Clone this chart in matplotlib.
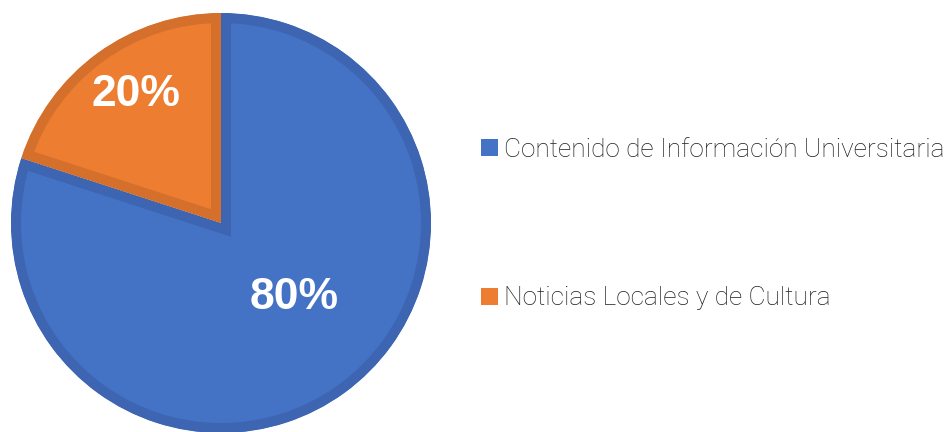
import matplotlib
matplotlib.use("Agg")
import numpy as np
import matplotlib.pyplot as plt
from matplotlib.patches import Patch

# data
labels = ["Contenido de Información Universitaria", "Noticias Locales y de Cultura"]
shares = [80, 20]
fill_colors = ["#4472C4", "#ED7D31"]
edge_colors = ["#3D65B1", "#D4702C"]
# where the percentage sits inside each slice
pct_dist = [0.495, 0.735]
pct_turn = [8.6, -2.6]

fig = plt.figure(figsize=(9.52, 4.32), dpi=100)
ax = fig.add_axes([11 / 952, -1 / 432, 420 / 952, 420 / 432])

wedges, _ = ax.pie(shares, colors=fill_colors, startangle=90, counterclock=False,
                   radius=1.0, wedgeprops=dict(linewidth=14.4))
for w, ec in zip(wedges, edge_colors):
    w.set_edgecolor(ec)
    w.set_clip_on(True)
    w.set_clip_path(w)  # keep the thick border inside the slice

for w, s, d, t in zip(wedges, shares, pct_dist, pct_turn):
    mid = np.deg2rad((w.theta1 + w.theta2) / 2 + t)
    ax.text(d * np.cos(mid), d * np.sin(mid), f"{s}%", ha="center", va="center",
            color="white", fontsize=32, fontweight="bold", family="Liberation Sans")

ax.set_xlim(-1, 1)
ax.set_ylim(-1, 1)
ax.set_aspect("equal")
ax.axis("off")

handles = [Patch(facecolor=c, edgecolor="none") for c in fill_colors]
fig.legend(handles, labels, loc="center left", bbox_to_anchor=(481 / 952, 1 - 224 / 432),
           frameon=False, prop=dict(family="Roboto", weight="light", size=18.9),
           labelcolor="#1f1f1f", handlelength=0.63, handleheight=0.63,
           handletextpad=0.25, labelspacing=4.75, borderpad=0, borderaxespad=0)

fig.savefig("out.png", dpi=100)
